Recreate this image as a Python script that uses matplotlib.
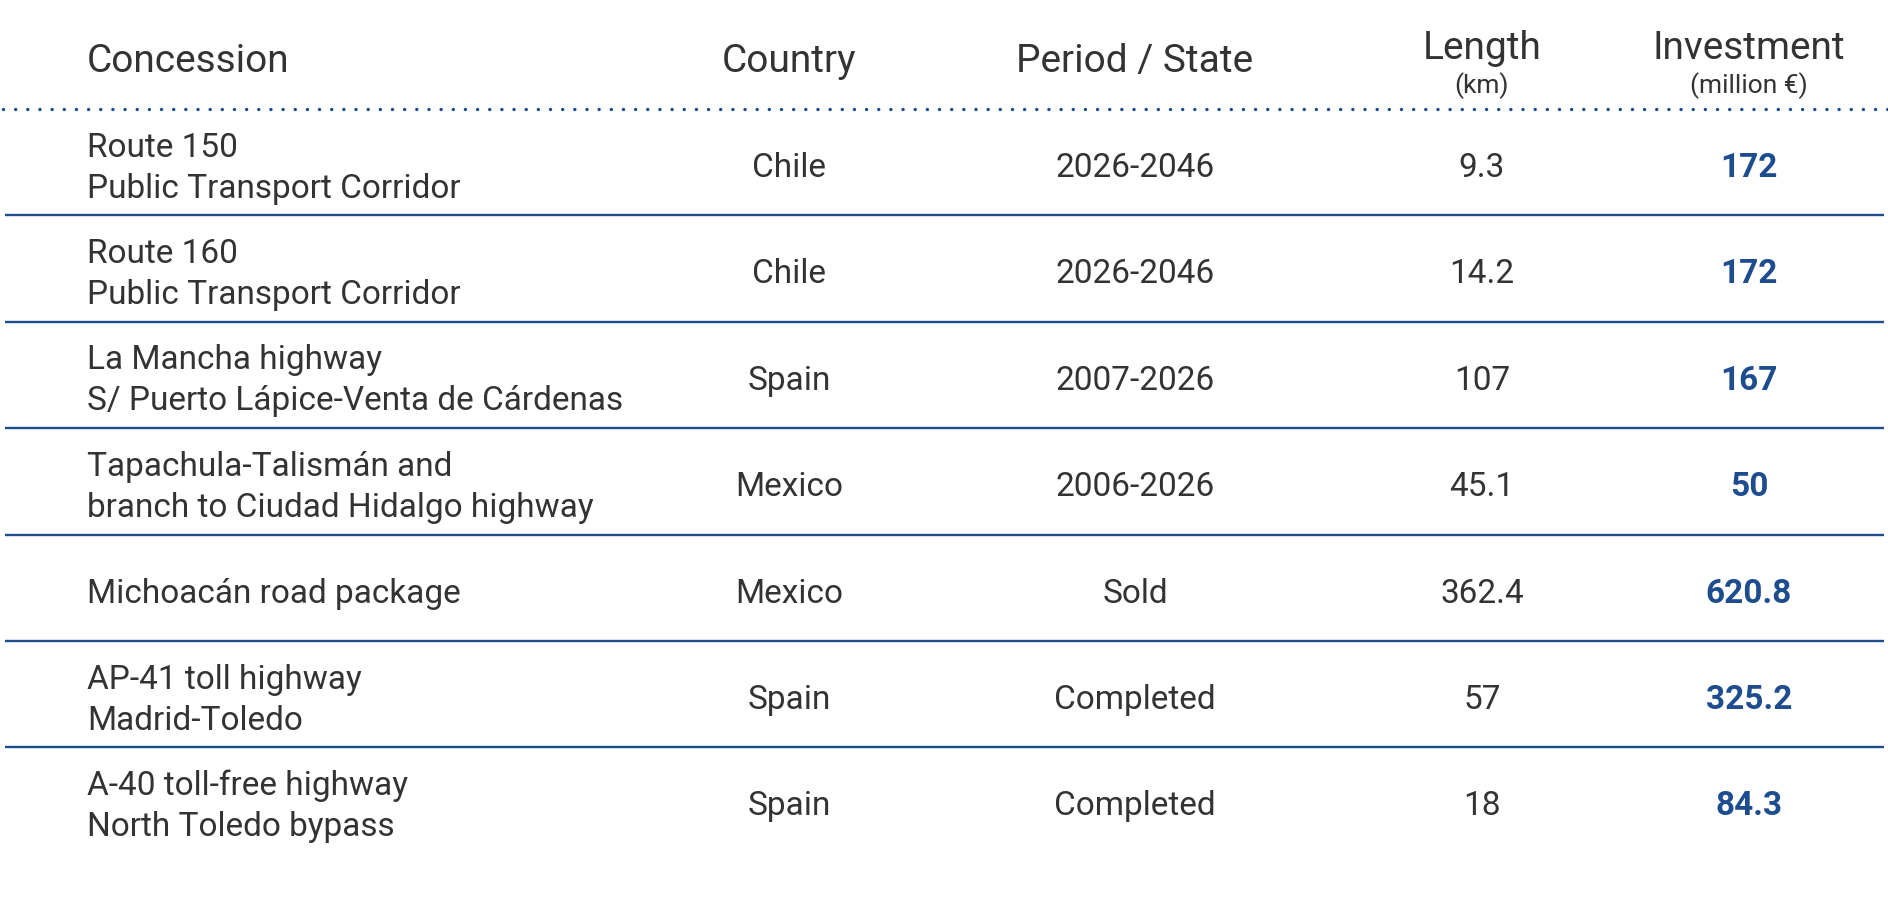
# concessions_table.py
# Concession summary table drawn as text + rules on a blank axes

import matplotlib.pyplot as plt

# ---------- data ----------
CONCESSIONS = [
    ["Route 150", "Public Transport Corridor"],
    ["Route 160", "Public Transport Corridor"],
    ["La Mancha highway", "S/ Puerto Lápice-Venta de Cárdenas"],
    ["Tapachula-Talismán and", "branch to Ciudad Hidalgo highway"],
    ["Michoacán road package"],
    ["AP-41 toll highway", "Madrid-Toledo"],
    ["A-40 toll-free highway", "North Toledo bypass"],
]
COUNTRIES = ["Chile", "Chile", "Spain", "Mexico", "Mexico", "Spain", "Spain"]
PERIODS = ["2026-2046", "2026-2046", "2007-2026", "2006-2026", "Sold",
           "Completed", "Completed"]
LENGTHS = [9.3, 14.2, 107, 45.1, 362.4, 57, 18]
INVESTMENTS = [172, 172, 167, 50, 620.8, 325.2, 84.3]

HEADERS = ["Concession", "Country", "Period / State", "Length", "Investment"]
SUBHEADERS = ["", "", "", "(km)", "(million €)"]

# ---------- style / layout (pixels) ----------
W, H = 1888, 903
TEXT = "#333333"
BLUE = "#1e4d8f"
FONT = "Roboto"

COL_X = [87, 789, 1135, 1482, 1749]     # left edge for col 0, centres for the rest
ROW_TOP = 110                           # dotted rule under header
ROW_H = 106.4
BODY_PT = 24
CAP = 0.711 * BODY_PT * 100 / 72        # cap height in px
LINE_GAP = 41

plt.rcParams["font.family"] = [FONT, "DejaVu Sans"]

fig = plt.figure(figsize=(W / 100, H / 100), dpi=100)
ax = fig.add_axes([0, 0, 1, 1])
ax.set_xlim(0, W)
ax.set_ylim(H, 0)
ax.axis("off")

# header
for i, h in enumerate(HEADERS):
    if SUBHEADERS[i]:
        ax.text(COL_X[i], 59, h, ha="center", va="baseline",
                fontsize=28, color=TEXT)
        ax.text(COL_X[i], 93, SUBHEADERS[i], ha="center", va="baseline",
                fontsize=19, color=TEXT)
    else:
        ax.text(COL_X[i], 72, h, ha="left" if i == 0 else "center",
                va="baseline", fontsize=28, color=TEXT)

# dotted rule
ax.plot([3, W], [ROW_TOP, ROW_TOP], color=BLUE, linewidth=2.5,
        linestyle=(0, (0.001, 3.5)), dash_capstyle="round")

# rows
for r in range(len(CONCESSIONS)):
    c = ROW_TOP + ROW_H * (r + 0.5)
    mid = c + 2
    lines = CONCESSIONS[r]
    if len(lines) == 1:
        ax.text(COL_X[0], mid + CAP / 2, lines[0], ha="left", va="baseline",
                fontsize=BODY_PT, color=TEXT)
    else:
        for k, ln in enumerate(lines):
            y = mid + (k - 0.5) * LINE_GAP + CAP / 2
            ax.text(COL_X[0], y, ln, ha="left", va="baseline",
                    fontsize=BODY_PT, color=TEXT)

    ax.text(COL_X[1], mid + CAP / 2, COUNTRIES[r], ha="center", va="baseline",
            fontsize=BODY_PT, color=TEXT)
    ax.text(COL_X[2], mid + CAP / 2, PERIODS[r], ha="center", va="baseline",
            fontsize=BODY_PT, color=TEXT)
    ax.text(COL_X[3], mid + CAP / 2, f"{LENGTHS[r]:g}", ha="center",
            va="baseline", fontsize=BODY_PT, color=TEXT)
    ax.text(COL_X[4], mid + CAP / 2, f"{INVESTMENTS[r]:g}", ha="center",
            va="baseline", fontsize=BODY_PT, color=BLUE, weight="bold")

    # separator under every row but the last
    if r < len(CONCESSIONS) - 1:
        y = ROW_TOP + ROW_H * (r + 1)
        ax.plot([5, 1884], [y, y], color=BLUE, linewidth=1.7,
                solid_capstyle="butt")

fig.savefig("out.png", dpi=100, facecolor="white")
